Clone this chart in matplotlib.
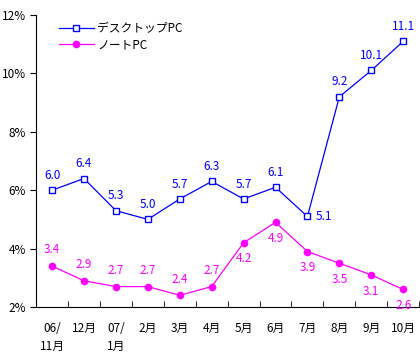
import matplotlib
matplotlib.use("Agg")
import matplotlib.pyplot as plt
import numpy as np

plt.rcParams['font.family'] = ['Noto Sans CJK JP', 'DejaVu Sans']

categories = ["06/\n11月", "12月", "07/\n1月", "2月", "3月", "4月", "5月", "6月", "7月", "8月", "9月", "10月"]
desktop = [6.0, 6.4, 5.3, 5.0, 5.7, 6.3, 5.7, 6.1, 5.1, 9.2, 10.1, 11.1]
notebook = [3.4, 2.9, 2.7, 2.7, 2.4, 2.7, 4.2, 4.9, 3.9, 3.5, 3.1, 2.6]
yticks = [2, 4, 6, 8, 10, 12]
ytick_labels = ["2%", "4%", "6%", "8%", "10%", "12%"]

blue = "#0000FF"
mag = "#FF00FF"

fig = plt.figure(figsize=(4.2, 3.57), dpi=100)
ax = fig.add_axes([0.086, 0.14, 0.912, 0.818])
x = np.arange(len(categories))
ax.plot(x, desktop, color=blue, lw=0.9, marker='s', ms=4.2, mfc='white', mec=blue, mew=1.0, label="デスクトップPC")
ax.plot(x, notebook, color=mag, lw=0.9, marker='o', ms=4.5, mfc=mag, mec=mag, label="ノートPC")

fs = 8.5
for i, v in enumerate(desktop):
    if i == 8:
        ax.annotate(f"{v:.1f}", (i, v), xytext=(6, 0), textcoords='offset points', ha='left', va='center', color=blue, fontsize=fs)
    else:
        ax.annotate(f"{v:.1f}", (i, v), xytext=(0, 6), textcoords='offset points', ha='center', va='bottom', color=blue, fontsize=fs)
for i, v in enumerate(notebook):
    if i < 6:
        ax.annotate(f"{v:.1f}", (i, v), xytext=(0, 7), textcoords='offset points', ha='center', va='bottom', color=mag, fontsize=fs)
    else:
        ax.annotate(f"{v:.1f}", (i, v), xytext=(0, -7), textcoords='offset points', ha='center', va='top', color=mag, fontsize=fs)

ax.set_xlim(-0.5, 11.5)
ax.set_ylim(2, 12)
ax.set_yticks(yticks)
ax.set_yticklabels(ytick_labels, fontsize=fs)
ax.set_xticks(x)
ax.set_xticklabels(categories, fontsize=fs, va='top', linespacing=1.5)
ax.tick_params(axis='x', length=0, pad=11)
ax.set_xticks(np.arange(-0.5, 11.6, 1.0), minor=True)
ax.tick_params(axis='x', which='minor', direction='in', length=4)
ax.tick_params(axis='y', direction='out', length=4)
for s in ['top', 'right']:
    ax.spines[s].set_visible(False)
ax.legend(loc='upper left', bbox_to_anchor=(0.04, 1.0), frameon=False, fontsize=fs, handlelength=3, handletextpad=0.3, labelspacing=0.25, borderaxespad=0.2)
fig.savefig("out.png", dpi=100)
